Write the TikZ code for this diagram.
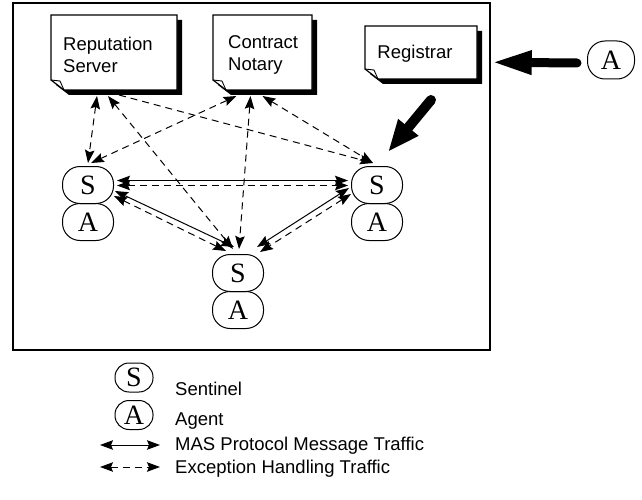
\documentclass[tikz,border=0pt]{standalone}
\usepackage{fontspec}
\setmainfont{Liberation Sans}
\newfontfamily\serifA{Liberation Serif}
\usetikzlibrary{arrows.meta,calc}
\newcommand\docshape[1]{%
  \fill ($(#1.north west)+(5,5)$) -- ($(#1.north east)+(5,5)$) -- ($(#1.south east)+(5,5)$) -- ($(#1.south west)+(18,5)$) -- ($(#1.south west)+(5,-5)$) -- cycle;
  \filldraw[fill=white, line width=1.2pt, line join=miter] (#1.north west) -- (#1.north east) -- (#1.south east) -- ($(#1.south west)+(13,0)$) -- ($(#1.south west)+(0,-10)$) -- cycle;
  \draw[line width=0.9pt, line join=round] ($(#1.south west)+(0,-10)$) -- ($(#1.south west)+(9,-9)$) -- ($(#1.south west)+(13,0)$);
}
\begin{document}
\begin{tikzpicture}[x=1pt,y=-1pt,
  every node/.style={inner sep=0pt},
  oval/.style={draw, line width=1pt, rounded corners=17.5pt, minimum width=51pt, minimum height=37pt, font=\serifA\fontsize{28}{28}\selectfont},
  legoval/.style={oval, rounded corners=14pt, minimum width=38pt, minimum height=29pt},
  docbox/.style={outer sep=0pt},
  lbl/.style={font=\fontsize{18.5}{22}\selectfont, align=left},
  tipA/.tip={Stealth[length=13pt,width=9.5pt,inset=2pt]},
  msg/.style={line width=1pt, tipA-tipA},
  exc/.style={msg, dash pattern=on 7pt off 5pt},
  excone/.style={line width=1pt, -tipA, dash pattern=on 7pt off 5pt},
  big/.style={line width=9pt, line cap=round, -{Triangle[length=40pt,width=22pt]}},
  bigB/.style={line width=10pt, line cap=round, -{Triangle[length=32pt,width=24pt]}}
]
\useasboundingbox (0,0) rectangle (642,500);

% frame
\node[draw, line width=1.5pt, minimum width=477pt, minimum height=347pt] (frame) at (251.5,176.5) {};

% document boxes
\node[docbox, minimum width=126pt, minimum height=75pt] (rep) at (114,52.5) {};
\node[docbox, minimum width=99pt, minimum height=75pt] (cn) at (262.5,52.5) {};
\node[docbox, minimum width=112pt, minimum height=53pt] (reg) at (421,52.5) {};
\docshape{rep}
\docshape{cn}
\docshape{reg}
\node[lbl, anchor=west] (repT) at ($(rep.west)+(12,2)$) {Reputation\\Server};
\node[lbl, anchor=west] (cnT) at ($(cn.west)+(15,2)$) {Contract\\Notary};
\node[lbl] (regT) at ($(reg.center)+(-6,1)$) {Registrar};

% sentinels and agents
\node[oval] (aL) at (88,222) {A};
\node[oval] (sL) at (88,185) {S};
\node[oval] (aR) at (377,222) {A};
\node[oval] (sR) at (377,185) {S};
\node[oval] (aB) at (238,310) {A};
\node[oval] (sB) at (238,273) {S};

% outside agent
\node[oval, minimum width=47pt, minimum height=38pt] (aout) at (611,60) {A};

% thick arrows
\draw[big] ($(aout.west)+(-10,3)$) -- ($(frame.north east)+(1,60)$);
\draw[bigB] ($(reg.south)+(10,21)$) -- ($(sR.north)+(11,-14)$);

% exception traffic to servers
\draw[exc] ($(rep.south)+(-17,6)$) -- ($(sL.north)+(0,-3)$);
\draw[exc] ($(cn.south)+(-26,6)$) -- ($(sL.north)+(3,-3)$);
\draw[exc] ($(rep.south)+(-6,6)$) -- ($(sB.north)+(-5,-5)$);
\draw[excone] ($(rep.south)+(5,5)$) -- ($(sR.north)+(-4,-3)$);
\draw[exc] ($(cn.south)+(-12,6)$) -- ($(sB.north)+(1,-5)$);
\draw[exc] ($(cn.south)+(0,6)$) -- ($(sR.north)+(-4,-3)$);

% sentinel to sentinel
\draw[msg] ($(sL.east)+(3,-4.5)$) -- ($(sR.west)+(-3,-4.5)$);
\draw[exc] ($(sL.east)+(3,0.5)$) -- ($(sR.west)+(-3,0.5)$);
\draw[msg] ($(sL.east)+(1,6)$) -- ($(sB.north)+(-4,-7)$);
\draw[exc] ($(sL.east)+(0,11)$) -- ($(sB.north)+(-12,-3)$);
\draw[msg] ($(sR.west)+(-2,3)$) -- ($(sB.north)+(19,-7)$);
\draw[exc] ($(sR.west)+(0,9)$) -- ($(sB.north)+(22,-2)$);

% legend
\node[legoval] (legS) at (134,377.5) {S};
\node[legoval] (legA) at (134,415) {A};
\node[lbl, anchor=base west] (legST) at (175,395) {Sentinel};
\node[lbl, anchor=base west] (legAT) at (175,425) {Agent};
\coordinate (m1) at (100,445);
\coordinate (m2) at (160,445);
\coordinate (e1) at (100,467);
\coordinate (e2) at (160,467);
\draw[msg] (m1) -- (m2);
\draw[exc] (e1) -- (e2);
\node[lbl, anchor=base west] (legMT) at (175,450) {MAS Protocol Message Traffic};
\node[lbl, anchor=base west] (legET) at (175,473) {Exception Handling Traffic};
\end{tikzpicture}
\end{document}
